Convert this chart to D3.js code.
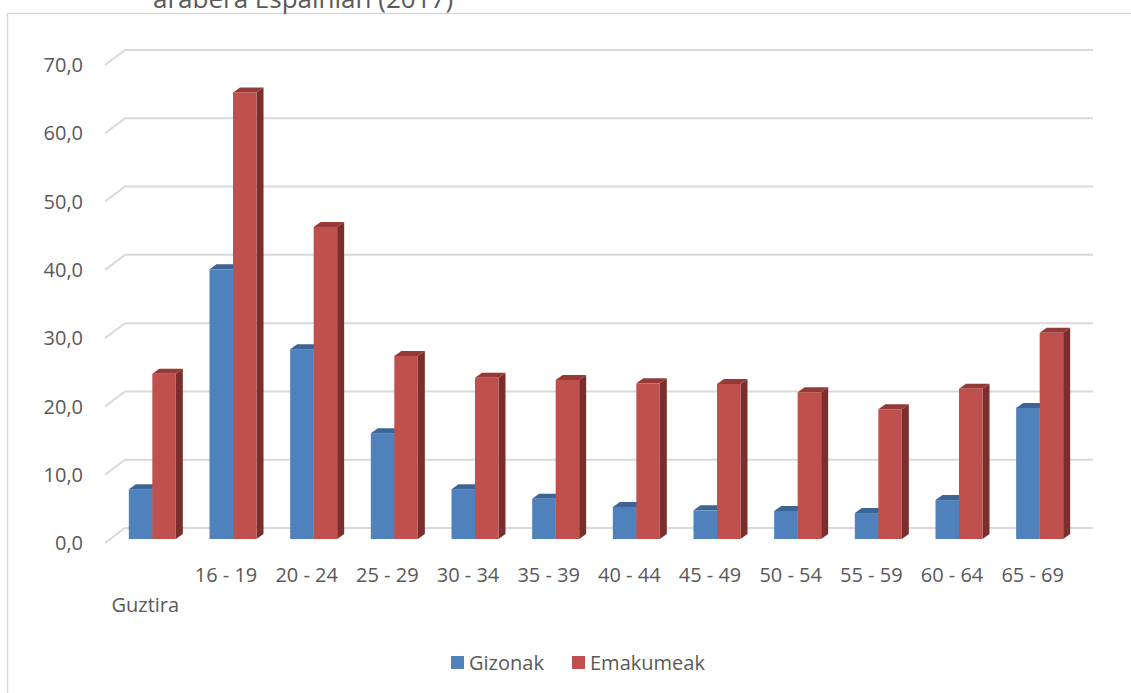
<!DOCTYPE html>
<html>
<head>
<meta charset="utf-8">
<script src="https://cdn.jsdelivr.net/npm/d3@7"></script>
<style>
  body { margin: 0; background: #fff; }
  text { font-family: "Open Sans", sans-serif; fill: #595959; }
</style>
</head>
<body>
<script>
// chart data
var categories = ["Guztira", "16 - 19", "20 - 24", "25 - 29", "30 - 34", "35 - 39",
                  "40 - 44", "45 - 49", "50 - 54", "55 - 59", "60 - 64", "65 - 69"];
var gizonak =    [7.3, 39.5, 27.8, 15.5, 7.3, 5.9, 4.7, 4.2, 4.1, 3.8, 5.7, 19.2];
var emakumeak =  [24.2, 65.4, 45.7, 26.8, 23.6, 23.3, 22.8, 22.7, 21.5, 19.0, 22.0, 30.2];
var seriesNames = ["Gizonak", "Emakumeak"];
var yTicks = [0, 10, 20, 30, 40, 50, 60, 70];

var w = 1131, h = 693;
var depthX = 20, depthY = -15;   // back wall offset
var barDX = 7, barDY = -5;       // bar thickness
var shiftX = 7, shiftY = -4;     // bars sit a bit behind the front edge

var fronts = ["#4F81BD", "#C0504D"];
var tops = ["#3C6595", "#963A37"];
var sides = ["#385D8A", "#7B2F2D"];

var svg = d3.select("body").append("svg")
  .attr("width", w)
  .attr("height", h);

//chart border
svg.append("rect")
  .attr("x", 7.5).attr("y", 13.5)
  .attr("width", w + 10).attr("height", h)
  .attr("fill", "none")
  .attr("stroke", "#D9D9D9")
  .attr("stroke-width", 1.5);

//title (only last line visible)
svg.append("text")
  .attr("x", 153).attr("y", 8)
  .attr("font-size", "26px")
  .text("arabera Espainian (2017)");

var xScale = d3.scaleBand()
  .domain(categories)
  .range([105, 1073]);

var yScale = d3.scaleLinear()
  .domain([0, 70])
  .range([543, 65]);

//gridlines on back wall + diagonals
var grid = svg.append("g")
  .attr("stroke", "#D9D9D9")
  .attr("stroke-width", 2)
  .attr("fill", "none");

yTicks.forEach(function(t) {
  var y = yScale(t);
  grid.append("path")
    .attr("d", "M105," + y + "L" + (105 + depthX) + "," + (y + depthY) +
               "L1093," + (y + depthY));
});

//y labels
svg.selectAll("text.ylab")
  .data(yTicks)
  .enter()
  .append("text")
  .attr("class", "ylab")
  .attr("x", 83)
  .attr("y", function(d) { return yScale(d); })
  .attr("dy", "0.36em")
  .attr("text-anchor", "end")
  .attr("font-size", "20px")
  .text(function(d) { return d.toFixed(1).replace(".", ","); });

//bars
var bw = 23.5;
var bars = [];
categories.forEach(function(c, i) {
  [gizonak[i], emakumeak[i]].forEach(function(v, s) {
    bars.push({ cat: c, s: s, value: v });
  });
});

var g = svg.append("g");
bars.forEach(function(d) {
  var x0 = xScale(d.cat) + xScale.bandwidth() / 2 - bw + shiftX + d.s * bw;
  var x1 = x0 + bw;
  var yT = yScale(d.value) + shiftY;
  var yB = yScale(0) + shiftY;
  //side
  g.append("path")
    .attr("d", "M" + x1 + "," + yT + "L" + (x1 + barDX) + "," + (yT + barDY) +
               "L" + (x1 + barDX) + "," + (yB + barDY) + "L" + x1 + "," + yB + "Z")
    .attr("fill", sides[d.s]);
  //top
  g.append("path")
    .attr("d", "M" + x0 + "," + yT + "L" + (x0 + barDX) + "," + (yT + barDY) +
               "L" + (x1 + barDX) + "," + (yT + barDY) + "L" + x1 + "," + yT + "Z")
    .attr("fill", tops[d.s]);
  //front
  g.append("rect")
    .attr("x", x0)
    .attr("y", yT)
    .attr("width", bw)
    .attr("height", yB - yT)
    .attr("fill", fronts[d.s]);
});

//x labels
svg.selectAll("text.xlab")
  .data(categories)
  .enter()
  .append("text")
  .attr("class", "xlab")
  .attr("x", function(d) { return xScale(d) + xScale.bandwidth() / 2; })
  .attr("y", function(d, i) { return i == 0 ? 612 : 582; })
  .attr("text-anchor", "middle")
  .attr("font-size", "20px")
  .text(function(d) { return d; });

//legend
var legX = [451, 572];
var leg = svg.selectAll("g.leg")
  .data(seriesNames)
  .enter()
  .append("g")
  .attr("class", "leg")
  .attr("transform", function(d, i) { return "translate(" + legX[i] + ",656)"; });

leg.append("rect")
  .attr("width", 13)
  .attr("height", 13)
  .attr("fill", function(d, i) { return fronts[i]; });

leg.append("text")
  .attr("x", 18)
  .attr("y", 14)
  .attr("font-size", "20px")
  .text(function(d) { return d; });
</script>
</body>
</html>
